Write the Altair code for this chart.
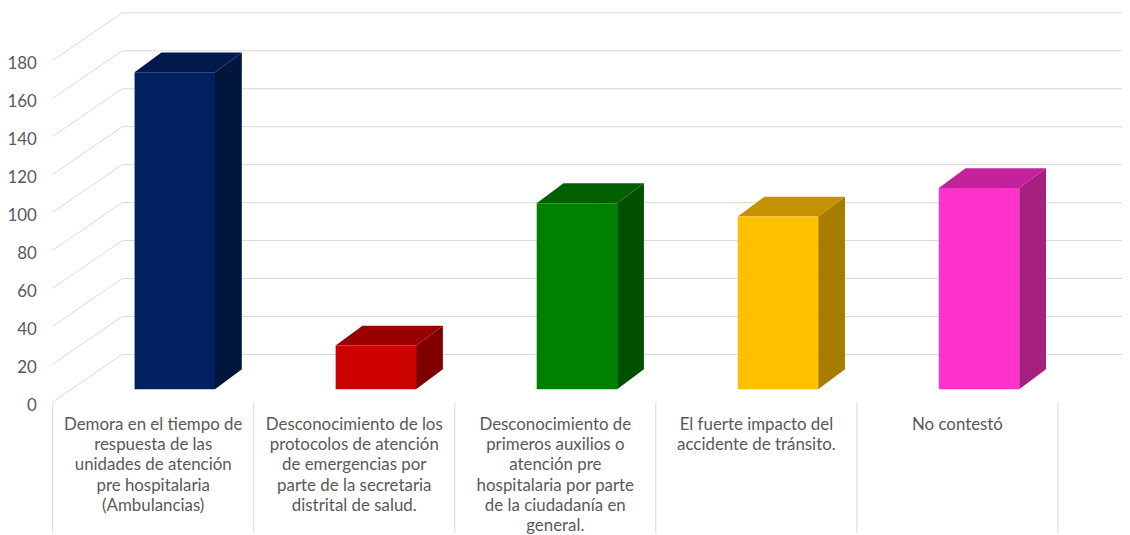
import altair as alt
import pandas as pd

# ---------------- data ----------------
categories = [
    "Demora en el tiempo de\nrespuesta de las\nunidades de atención\npre hospitalaria\n(Ambulancias)",
    "Desconocimiento de los\nprotocolos de atención\nde emergencias por\nparte de la secretaria\ndistrital de salud.",
    "Desconocimiento de\nprimeros auxilios o\natención pre\nhospitalaria por parte\nde la ciudadanía en\ngeneral.",
    "El fuerte impacto del\naccidente de tránsito.",
    "No contestó",
]
values = [167, 23, 98, 91, 106]
y_ticks = [0, 20, 40, 60, 80, 100, 120, 140, 160, 180]

# ---------------- style ----------------
front_colors = ["#002060", "#CC0000", "#008000", "#FFC000", "#FF33CC"]
top_colors = ["#001A4E", "#990000", "#006000", "#C49200", "#C4229C"]
side_colors = ["#00163D", "#800000", "#005000", "#A67D00", "#A41F7E"]

W, H = 1122, 527
X_DOMAIN = [-0.22222, 5.31852]
Y_DOMAIN = [-69.07, 206.70]
WALL_DU = 0.3457   # floor depth in category units
WALL_DV = 25.12    # floor depth in value units
BAR_OFF = 0.4074
BAR_W = 0.40
BAR_DU = 0.1333
BAR_DV = 10.47
BAR_BASE = 6.8
LABEL_V = -14.65
GRID = "#D9D9D9"
TEXT = "#595959"
FONT = "Lato"

xs = alt.Scale(domain=X_DOMAIN, nice=False, zero=False)
ys = alt.Scale(domain=Y_DOMAIN, nice=False, zero=False)

n = len(categories)

# ---------------- tables ----------------
grid_df = pd.DataFrame({
    "t": y_ticks,
    "x0": [0.0] * len(y_ticks),
    "x1": [WALL_DU] * len(y_ticks),
    "xe": [X_DOMAIN[1]] * len(y_ticks),
    "y1": [t + WALL_DV for t in y_ticks],
})

div_df = pd.DataFrame({
    "k": list(range(n + 1)),
    "ytop": [0.0] * (n + 1),
    "ybot": [Y_DOMAIN[0]] * (n + 1),
})

bars = pd.DataFrame({
    "cat": [str(i) for i in range(n)],
    "left": [i + BAR_OFF for i in range(n)],
    "right": [i + BAR_OFF + BAR_W for i in range(n)],
    "base": [BAR_BASE] * n,
    "top": [BAR_BASE + v for v in values],
    "cf": front_colors,
})

lab_df = pd.DataFrame({
    "cx": [i + 0.5 for i in range(n)],
    "ly": [LABEL_V] * n,
    "label": categories,
})

ytick_df = pd.DataFrame({"t": y_ticks, "x0": [0.0] * len(y_ticks)})

# ---------------- layers ----------------
layers = []
layers.append(alt.Chart(grid_df).mark_rule(color=GRID, strokeWidth=1).encode(
    x=alt.X("x0:Q", scale=xs, axis=None),
    x2="x1:Q",
    y=alt.Y("t:Q", scale=ys, axis=None),
    y2="y1:Q",
))
layers.append(alt.Chart(grid_df).mark_rule(color=GRID, strokeWidth=1, clip=True).encode(
    x=alt.X("x1:Q", scale=xs, axis=None),
    x2="xe:Q",
    y=alt.Y("y1:Q", scale=ys, axis=None),
))
layers.append(alt.Chart(div_df).mark_rule(color=GRID, strokeWidth=1).encode(
    x=alt.X("k:Q", scale=xs, axis=None),
    y=alt.Y("ytop:Q", scale=ys, axis=None),
    y2="ybot:Q",
))
layers.append(alt.Chart(ytick_df).mark_text(
    align="right", baseline="middle", dx=-16, dy=4, fontSize=17, font=FONT, color=TEXT
).encode(
    x=alt.X("x0:Q", scale=xs, axis=None),
    y=alt.Y("t:Q", scale=ys, axis=None),
    text="t:Q",
))

# 3-D faces of each bar: side (parallelogram with vertical edges) and top
for i, v in enumerate(values):
    l, r, b, t = i + BAR_OFF, i + BAR_OFF + BAR_W, BAR_BASE, BAR_BASE + v
    side_df = pd.DataFrame({
        "xv": [r, r + BAR_DU],
        "ya": [b, b + BAR_DV],
        "yb": [t, t + BAR_DV],
    })
    top_df = pd.DataFrame({
        "yv": [t, t + BAR_DV],
        "xa": [l, l + BAR_DU],
        "xb": [r, r + BAR_DU],
    })
    layers.append(alt.Chart(side_df).mark_area(
        color=side_colors[i], orient="vertical", interpolate="linear"
    ).encode(
        x=alt.X("xv:Q", scale=xs, axis=None),
        y=alt.Y("ya:Q", scale=ys, axis=None, stack=None),
        y2="yb:Q",
    ))
    layers.append(alt.Chart(top_df).mark_area(
        color=top_colors[i], orient="horizontal", interpolate="linear"
    ).encode(
        y=alt.Y("yv:Q", scale=ys, axis=None),
        x=alt.X("xa:Q", scale=xs, axis=None, stack=None),
        x2="xb:Q",
    ))

layers.append(alt.Chart(bars).mark_rect().encode(
    x=alt.X("left:Q", scale=xs, axis=None),
    x2="right:Q",
    y=alt.Y("base:Q", scale=ys, axis=None),
    y2="top:Q",
    color=alt.Color("cf:N", scale=None),
))
layers.append(alt.Chart(lab_df).mark_text(
    align="center", baseline="alphabetic", lineBreak="\n", lineHeight=20.4,
    fontSize=17, font=FONT, color=TEXT
).encode(
    x=alt.X("cx:Q", scale=xs, axis=None),
    y=alt.Y("ly:Q", scale=ys, axis=None),
    text="label:N",
))

chart = alt.layer(*layers).properties(
    width=W, height=H,
    autosize=alt.AutoSizeParams(type="none"),
    padding=0,
    background="white",
).configure_view(stroke=None)

chart.save("out.html", embed_options={"renderer": "svg", "actions": False})
